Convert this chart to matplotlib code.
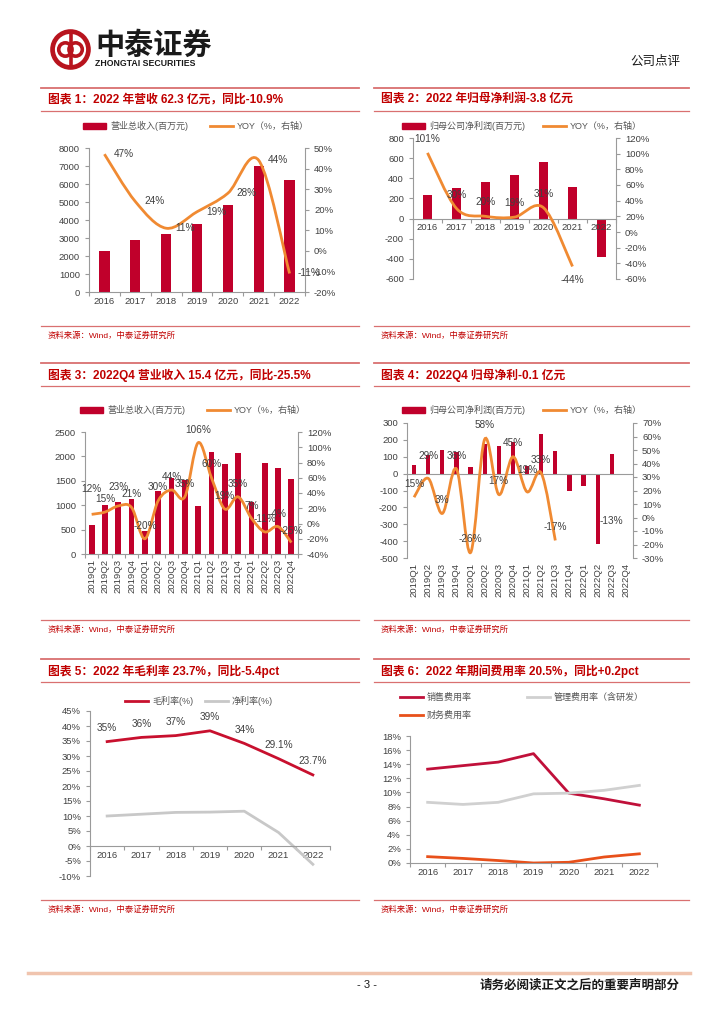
import numpy as np
import matplotlib.pyplot as plt
from matplotlib.path import Path
from matplotlib.patches import PathPatch, Circle, Rectangle
from matplotlib.lines import Line2D
from matplotlib.ticker import FuncFormatter

plt.rcParams['font.family'] = ['Liberation Sans', 'Noto Sans CJK SC']
plt.rcParams['axes.unicode_minus'] = False

# 数据
years = ['2016', '2017', '2018', '2019', '2020', '2021', '2022']
quarters = ['2019Q1', '2019Q2', '2019Q3', '2019Q4', '2020Q1', '2020Q2', '2020Q3', '2020Q4',
            '2021Q1', '2021Q2', '2021Q3', '2021Q4', '2022Q1', '2022Q2', '2022Q3', '2022Q4']

rev_year = [2300, 2880, 3200, 3800, 4850, 7000, 6230]
rev_year_yoy = [47, 24, 11, 19, 28, 44, -11]

np_year = [230, 305, 360, 430, 565, 315, -380]
np_year_yoy = [101, 30, 20, 19, 31, -44]

rev_q = [600, 1000, 1075, 1125, 475, 1300, 1550, 1520, 990, 2080, 1845, 2060, 1070, 1860, 1770, 1540]
rev_q_yoy = [12, 15, 23, 21, -20, 30, 44, 35, 106, 60, 19, 35, 7, -11, -4, -25]

np_q = [53, 113, 138, 130, 40, 178, 162, 188, 45, 237, 136, -100, -75, -415, 118, -10]
np_q_yoy = [15, 29, 3, 36, -26, 58, 17, 45, 19, 33, -17]
np_q_extra_idx = 14
np_q_extra_val = -13

gross_margin = [34.8, 36.2, 36.8, 38.4, 34.2, 29.1, 23.7]
gross_labels = ['35%', '36%', '37%', '39%', '34%', '29.1%', '23.7%']
net_margin = [10.0, 10.6, 11.2, 11.3, 11.6, 4.5, -6.1]

sales_ratio = [13.3, 13.8, 14.3, 15.5, 9.9, 9.1, 8.2]
admin_ratio = [8.6, 8.3, 8.6, 9.8, 9.9, 10.3, 11.0]
fin_ratio = [0.9, 0.65, 0.35, 0.0, 0.1, 0.85, 1.3]

# 样式
RED = '#C0002B'
ORANGE = '#F08A32'
HEAD = '#C00000'
LINE = '#D97070'
AXC = '#9A9A9A'
TXT = '#404040'
W, H = 724, 1024

fig = plt.figure(figsize=(W / 100, H / 100), dpi=100)


def box(x0, y0, x1, y1):
    return [x0 / W, 1 - y1 / H, (x1 - x0) / W, (y1 - y0) / H]


def fx(x):
    return x / W


def fy(y):
    return 1 - y / H


pct = FuncFormatter(lambda v, p: '%d%%' % round(v))


def smooth_path(x, y):
    pts = np.column_stack([x, y]).astype(float)
    n = len(pts)
    verts = [pts[0]]
    codes = [Path.MOVETO]
    for i in range(n - 1):
        p0 = pts[i - 1] if i > 0 else pts[i]
        p1 = pts[i]
        p2 = pts[i + 1]
        p3 = pts[i + 2] if i + 2 < n else pts[i + 1]
        verts += [p1 + (p2 - p0) / 6, p2 - (p3 - p1) / 6, p2]
        codes += [Path.CURVE4] * 3
    return Path(verts, codes)


def header(x0, x1, y, title):
    fig.add_artist(Line2D([fx(x0), fx(x1)], [fy(y - 12)] * 2, color=LINE, lw=1.3))
    fig.add_artist(Line2D([fx(x0), fx(x1)], [fy(y + 11)] * 2, color=LINE, lw=0.9))
    fig.text(fx(x0 + 7), fy(y), title, color=HEAD, fontsize=8.5, fontweight='bold', va='center')


def source(x0, x1, y):
    fig.add_artist(Line2D([fx(x0), fx(x1)], [fy(y)] * 2, color=LINE, lw=0.9))
    fig.text(fx(x0 + 7), fy(y + 10), '资料来源：Wind，中泰证券研究所', color=HEAD, fontsize=6, va='center')


def leg_patch(x, y, color, label):
    fig.add_artist(Rectangle((fx(x), fy(y + 3)), 23 / W, 6 / H, color=color, transform=fig.transFigure))
    fig.text(fx(x + 27), fy(y), label, fontsize=6.5, color='#555555', va='center')


def leg_line(x, y, color, label):
    fig.add_artist(Line2D([fx(x), fx(x + 23)], [fy(y)] * 2, color=color, lw=2))
    fig.text(fx(x + 27), fy(y), label, fontsize=6.5, color='#555555', va='center')


def style(ax, n):
    ax.spines['top'].set_visible(False)
    ax.spines['right'].set_visible(False)
    for s in ['left', 'bottom']:
        ax.spines[s].set_color(AXC)
        ax.spines[s].set_linewidth(0.8)
    ax.tick_params(labelsize=6.8, colors=TXT, length=3, color=AXC, width=0.8)
    ax.set_xlim(-0.5, n - 0.5)
    ax.set_xticks(np.arange(n))
    ax.tick_params(axis='x', which='major', length=0)
    ax.set_xticks(np.arange(-0.5, n, 1), minor=True)
    ax.tick_params(axis='x', which='minor', length=3, color=AXC, width=0.8)


def style_right(ax2):
    for s in ['top', 'left', 'bottom']:
        ax2.spines[s].set_visible(False)
    ax2.spines['right'].set_color(AXC)
    ax2.spines['right'].set_linewidth(0.8)
    ax2.tick_params(labelsize=6.8, colors=TXT, length=3, color=AXC, width=0.8)
    ax2.yaxis.set_major_formatter(pct)


# 页眉
lg = fig.add_axes(box(50, 29, 91, 70))
lg.set_xlim(0, 40)
lg.set_ylim(40, 0)
lg.set_aspect('equal')
lg.axis('off')
lg.add_patch(Circle((20, 20), 17.5, fill=False, ec='#B8141E', lw=3.4))
lg.add_patch(Circle((15, 20), 6.5, fill=False, ec='#B8141E', lw=2.6))
lg.add_patch(Circle((25, 20), 6.5, fill=False, ec='#B8141E', lw=2.6))
lg.plot([20, 20], [6, 34], color='#B8141E', lw=2.6)
fig.text(fx(95), fy(45), '中泰证券', fontsize=21, fontweight='bold', color='#1A1A1A', va='center',
         family='Noto Sans CJK SC')
fig.text(fx(95), fy(63), 'ZHONGTAI SECURITIES', fontsize=6.3, fontweight='bold', color='#1A1A1A', va='center')
fig.text(fx(680), fy(61), '公司点评', fontsize=9, color='#1A1A1A', ha='right', va='center',
         family='Noto Sans CJK SC')

LX0, LX1 = 41, 359
RX0, RX1 = 374, 689

# 图表 1
header(LX0, LX1, 100, '图表 1：2022 年营收 62.3 亿元，同比-10.9%')
leg_patch(83, 126, RED, '营业总收入(百万元)')
leg_line(210, 126, ORANGE, 'YOY（%，右轴）')
ax = fig.add_axes(box(89, 148, 305, 292))
style(ax, 7)
x = np.arange(7)
ax.bar(x, rev_year, width=0.33, color=RED)
ax.set_ylim(0, 8000)
ax.set_yticks(range(0, 8001, 1000))
ax.set_xticklabels(years)
ax2 = ax.twinx()
style_right(ax2)
ax2.set_ylim(-20, 50)
ax2.set_yticks(range(-20, 51, 10))
ax2.add_patch(PathPatch(smooth_path(x, rev_year_yoy), fill=False, ec=ORANGE, lw=2))
for xi, v in zip(x, rev_year_yoy):
    ax2.text(xi + 0.62, v, '%d%%' % v, fontsize=7.2, color=TXT, ha='center', va='center')
source(LX0, LX1, 326)

# 图表 2
header(RX0, RX1, 100, '图表 2：2022 年归母净利润-3.8 亿元')
leg_patch(402, 126, RED, '归母公司净利润(百万元)')
leg_line(543, 126, ORANGE, 'YOY（%，右轴）')
ax = fig.add_axes(box(413, 138, 616, 279))
style(ax, 7)
ax.bar(x, np_year, width=0.33, color=RED)
ax.set_ylim(-600, 800)
ax.set_yticks(range(-600, 801, 200))
ax.set_xticklabels(years)
ax.spines['bottom'].set_position(('data', 0))
ax2 = ax.twinx()
style_right(ax2)
ax2.set_ylim(-60, 120)
ax2.set_yticks(range(-60, 121, 20))
xl = np.arange(len(np_year_yoy))
ax2.add_patch(PathPatch(smooth_path(xl, np_year_yoy), fill=False, ec=ORANGE, lw=2))
for xi, v in zip(xl, np_year_yoy):
    off = 10 if v > 0 else -10
    ax2.annotate('%d%%' % v, (xi, v), xytext=(0, off), textcoords='offset points',
                 fontsize=7.2, color=TXT, ha='center', va='center')
source(RX0, RX1, 326)

# 图表 3
header(LX0, LX1, 375, '图表 3：2022Q4 营业收入 15.4 亿元，同比-25.5%')
leg_patch(80, 410, RED, '营业总收入(百万元)')
leg_line(207, 410, ORANGE, 'YOY（%，右轴）')
ax = fig.add_axes(box(85, 432, 298, 554))
style(ax, 16)
xq = np.arange(16)
ax.bar(xq, rev_q, width=0.43, color=RED)
ax.set_ylim(0, 2500)
ax.set_yticks(range(0, 2501, 500))
ax.set_xticklabels(quarters, rotation=90)
ax2 = ax.twinx()
style_right(ax2)
ax2.set_ylim(-40, 120)
ax2.set_yticks(range(-40, 121, 20))
ax2.add_patch(PathPatch(smooth_path(xq, rev_q_yoy), fill=False, ec=ORANGE, lw=2))
offs3 = [18, 9.5, 14, 9.5, 9.5, 9.5, 9.5, 9.5, 9, 10, 9.5, 9.5, 9, 9.5, 9, 8]
for xi, v, o in zip(xq, rev_q_yoy, offs3):
    ax2.annotate('%d%%' % v, (xi, v), xytext=(0, o), textcoords='offset points',
                 fontsize=7.2, color=TXT, ha='center', va='center')
source(LX0, LX1, 620)

# 图表 4
header(RX0, RX1, 375, '图表 4：2022Q4 归母净利-0.1 亿元')
leg_patch(402, 410, RED, '归母公司净利润(百万元)')
leg_line(543, 410, ORANGE, 'YOY（%，右轴）')
ax = fig.add_axes(box(407, 423, 633, 558))
style(ax, 16)
ax.bar(xq, np_q, width=0.3, color=RED)
ax.set_ylim(-500, 300)
ax.set_yticks(range(-500, 301, 100))
ax.set_xticklabels(quarters, rotation=90)
ax.spines['bottom'].set_visible(False)
ax.tick_params(axis='x', which='minor', length=0)
ax.axhline(0, color=AXC, lw=0.8)
ax2 = ax.twinx()
style_right(ax2)
ax2.set_ylim(-30, 70)
ax2.set_yticks(range(-30, 71, 10))
xl = np.arange(len(np_q_yoy))
ax2.add_patch(PathPatch(smooth_path(xl, np_q_yoy), fill=False, ec=ORANGE, lw=2))
offs4 = [9.5, 16, 9.5, 9.5, 10, 10, 10, 10, 16, 9, 10]
for xi, v, o in zip(xl, np_q_yoy, offs4):
    ax2.annotate('%d%%' % v, (xi, v), xytext=(0, o), textcoords='offset points',
                 fontsize=7.2, color=TXT, ha='center', va='center')
ax2.annotate('%d%%' % np_q_extra_val, (np_q_extra_idx, np_q_extra_val), xytext=(0, 10),
             textcoords='offset points', fontsize=7.2, color=TXT, ha='center', va='center')
source(RX0, RX1, 620)

# 图表 5
header(LX0, LX1, 671, '图表 5：2022 年毛利率 23.7%，同比-5.4pct')
leg_line(125, 701, '#C8102E', '毛利率(%)')
leg_line(205, 701, '#C8C8C8', '净利率(%)')
ax = fig.add_axes(box(90, 711, 330, 876))
style(ax, 7)
ax.plot(x, gross_margin, color='#C8102E', lw=2)
ax.plot(x, net_margin, color='#C8C8C8', lw=2)
ax.set_ylim(-10, 45)
ax.set_yticks(range(-10, 46, 5))
ax.yaxis.set_major_formatter(pct)
ax.set_xticklabels(years)
ax.spines['bottom'].set_position(('data', 0))
for xi, v, s in zip(x, gross_margin, gross_labels):
    ax.annotate(s, (xi, v), xytext=(0, 10), textcoords='offset points',
                fontsize=7.2, color=TXT, ha='center', va='center')
source(LX0, LX1, 900)

# 图表 6
header(RX0, RX1, 671, '图表 6：2022 年期间费用率 20.5%，同比+0.2pct')
leg_line(400, 697, '#C0103A', '销售费用率')
leg_line(527, 697, '#D0D0D0', '管理费用率（含研发）')
leg_line(400, 715, '#E8501A', '财务费用率')
ax = fig.add_axes(box(410, 736, 657, 863))
style(ax, 7)
ax.plot(x, sales_ratio, color='#C0103A', lw=2)
ax.plot(x, admin_ratio, color='#D0D0D0', lw=2)
ax.plot(x, fin_ratio, color='#E8501A', lw=2)
ax.set_ylim(0, 18)
ax.set_yticks(range(0, 19, 2))
ax.yaxis.set_major_formatter(pct)
ax.set_xticklabels(years)
source(RX0, RX1, 900)

# 页脚
fig.add_artist(Line2D([fx(28), fx(690)], [fy(973)] * 2, color='#F0C4AE', lw=2.5))
fig.text(fx(367), fy(985), '- 3 -', fontsize=8, color='#1A1A1A', ha='center', va='center')
fig.text(fx(680), fy(985), '请务必阅读正文之后的重要声明部分', fontsize=9, fontweight='bold',
         color='#1A1A1A', ha='right', va='center', family='Noto Sans CJK SC')

fig.savefig('out.png', dpi=100, facecolor='white')
